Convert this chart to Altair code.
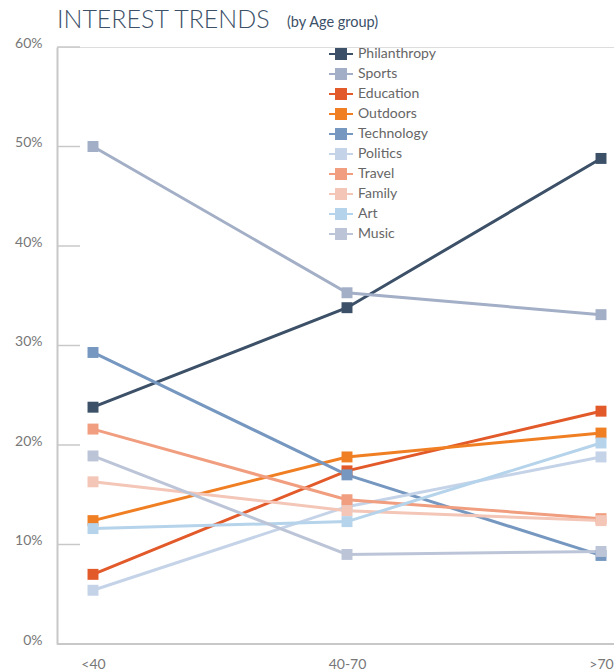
import altair as alt
import pandas as pd

# Age groups along the x axis
ages = ["<40", "40-70", ">70"]

# Share of respondents interested in each topic (%), one value per age group
categories = ["Philanthropy", "Sports", "Education", "Outdoors", "Technology",
              "Politics", "Travel", "Family", "Art", "Music"]
philanthropy = [23.8, 33.8, 48.8]
sports = [50.0, 35.3, 33.1]
education = [7.0, 17.4, 23.4]
outdoors = [12.4, 18.8, 21.2]
technology = [29.3, 17.0, 8.9]
politics = [5.4, 13.8, 18.8]
travel = [21.6, 14.5, 12.6]
family = [16.3, 13.4, 12.4]
art = [11.6, 12.3, 20.2]
music = [18.9, 9.0, 9.3]

colors = ["#3c5068", "#a3afc6", "#e2592a", "#f07f24", "#7597c0",
          "#c5d3e8", "#f09e7f", "#f3c6b7", "#b5d3ea", "#bcc5d8"]

y_ticks = [0.1, 0.2, 0.3, 0.4, 0.5, 0.6]

series = [philanthropy, sports, education, outdoors, technology,
          politics, travel, family, art, music]
rows = []
for name, vals in zip(categories, series):
    for age, v in zip(ages, vals):
        rows.append({"topic": name, "age": age, "share": v / 100})
df = pd.DataFrame(rows)

FONT = "Lato"
W, H = 557, 597

x_enc = alt.X("age:N", sort=ages, title=None,
              scale=alt.Scale(type="point", domain=ages, range=[36, 544], padding=0),
              axis=alt.Axis(labelAngle=0, domain=False, ticks=False,
                            labelPadding=13, labelFontSize=14,
                            labelColor="#777777", labelFont=FONT))
y_enc = alt.Y("share:Q", title=None,
              scale=alt.Scale(domain=[0, 0.6], nice=False),
              axis=alt.Axis(format=".0%", values=[0, 0.1, 0.2, 0.3, 0.4, 0.5, 0.6],
                            ticks=False, grid=False, domain=True,
                            domainColor="#c8c8c8", domainWidth=2,
                            labelPadding=15, labelFontSize=14, labelOffset=-4,
                            labelColor="#777777", labelFont=FONT))

topic_scale = alt.Scale(domain=categories, range=colors)
# legend glyph: a short line with a square marker in its middle
legend_symbol = "M-2,0L2,0M-0.83,-0.83L0.83,-0.83L0.83,0.83L-0.83,0.83Z"
topic_legend = alt.Legend(title=None, orient="none", legendX=277, legendY=0,
                          symbolType=legend_symbol, symbolSize=144,
                          symbolStrokeWidth=2, labelFontSize=14, labelFont=FONT,
                          labelColor="#666666", labelOffset=10, rowPadding=2,
                          padding=0)

lines = alt.Chart(df).mark_line(strokeWidth=3).encode(
    x=x_enc, y=y_enc,
    stroke=alt.Stroke("topic:N", sort=categories, scale=topic_scale, legend=topic_legend),
)
points = alt.Chart(df).mark_point(shape="square", filled=True, size=120,
                                  opacity=1, strokeWidth=0).encode(
    x=x_enc, y=y_enc,
    fill=alt.Fill("topic:N", sort=categories, scale=topic_scale, legend=topic_legend),
    stroke=alt.Stroke("topic:N", sort=categories, scale=topic_scale, legend=topic_legend),
)

# Inward tick marks on the y axis
ticks = alt.Chart(pd.DataFrame({"t": y_ticks})).mark_rule(
    color="#c8c8c8", strokeWidth=1.5
).encode(y="t:Q", x=alt.value(0), x2=alt.value(23))

# Bottom baseline across the whole plot
baseline = alt.Chart(pd.DataFrame({"t": [0]})).mark_rule(
    color="#c8c8c8", strokeWidth=2
).encode(y="t:Q", x=alt.value(0), x2=alt.value(W))

heading = alt.Chart(pd.DataFrame({"t": ["INTEREST TRENDS"]})).mark_text(
    align="left", baseline="alphabetic", fontSize=25, font=FONT,
    fontWeight=300, color="#3c5068"
).encode(text="t:N", x=alt.value(0), y=alt.value(-19))

subheading = alt.Chart(pd.DataFrame({"t": ["(by Age group)"]})).mark_text(
    align="left", baseline="alphabetic", fontSize=14.5, font=FONT,
    color="#3c5068"
).encode(text="t:N", x=alt.value(230), y=alt.value(-20))

chart = alt.layer(baseline, ticks, lines, points, heading, subheading).properties(
    width=W, height=H,
    autosize=alt.AutoSizeParams(type="none"),
    padding={"left": 57, "top": 47, "right": 0, "bottom": 28},
).configure_view(stroke=None).configure(background="white")

chart.save("out.html", embed_options={"renderer": "svg", "actions": False})
